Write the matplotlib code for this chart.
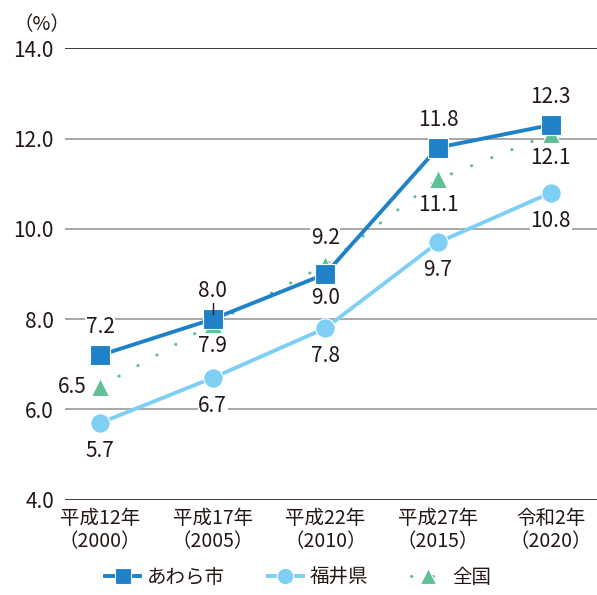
import matplotlib
matplotlib.use("Agg")
import matplotlib.pyplot as plt
import numpy as np

plt.rcParams['font.family'] = ['Noto Sans CJK JP', 'DejaVu Sans']

# data
years = ["平成12年\n（2000）", "平成17年\n（2005）", "平成22年\n（2010）",
         "平成27年\n（2015）", "令和2年\n（2020）"]
awara = [7.2, 8.0, 9.0, 11.8, 12.3]
fukui = [5.7, 6.7, 7.8, 9.7, 10.8]
zenkoku = [6.5, 7.9, 9.2, 11.1, 12.1]
yticks = [4.0, 6.0, 8.0, 10.0, 12.0, 14.0]

c_awara = "#1f82c8"
c_fukui = "#7fcff5"
c_zen = "#5fbf95"
txt = "#231815"

fig = plt.figure(figsize=(5.97, 5.95), dpi=100)
ax = fig.add_axes([0.109, 0.16, 0.891, 0.759])
x = np.arange(len(years))

# grid lines
for v in yticks:
    col = txt if v in (4.0, 14.0) else "#9a9a9a"
    ax.axhline(v, color=col, lw=1.2, zorder=0)

ax.plot(x, zenkoku, color=c_zen, lw=2.2, linestyle=(0, (0.1, 7)),
        dash_capstyle="round", marker="^", ms=13, mec="white", mew=0.8,
        label="全国", zorder=2)
ax.plot(x, fukui, color=c_fukui, lw=2.8, marker="o", ms=14, mec="white",
        mew=0.8, label="福井県", zorder=3)
ax.plot(x, awara, color=c_awara, lw=2.8, marker="s", ms=14, mec="white",
        mew=0.8, label="あわら市", zorder=4)

fs = 15
bb = dict(facecolor="white", edgecolor="none", pad=0.5)


def lab(xi, yi, s, dx, dy):
    ax.annotate(s, (xi, yi), xytext=(dx, dy), textcoords="offset pixels",
                ha="center", va="center", fontsize=fs, color=txt,
                bbox=bb, zorder=6)


# あわら市 labels
for i, v in enumerate(awara):
    if i == 2:
        lab(i, v, f"{v:.1f}", 0, -24)
    else:
        lab(i, v, f"{v:.1f}", 0, 28)
ax.plot([1, 1], [8.37, 8.12], color=txt, lw=1, zorder=5)

# 全国 labels
zoff = [(-28, 0), (0, -22), (0, 27), (0, -26), (0, -24)]
for i, v in enumerate(zenkoku):
    lab(i, v, f"{v:.1f}", *zoff[i])

# 福井県 labels
for i, v in enumerate(fukui):
    lab(i, v, f"{v:.1f}", 0, -28)

ax.set_xlim(-0.31, 4.41)
ax.set_ylim(4.0, 14.0)
ax.set_yticks(yticks)
ax.set_yticklabels([f"{v:.1f}" for v in yticks], fontsize=fs, color=txt)
ax.set_xticks(x)
ax.set_xticklabels(years, fontsize=fs - 1, color=txt, linespacing=1.15)
ax.tick_params(length=0, pad=8)
ax.tick_params(axis="x", pad=6)
for s in ax.spines.values():
    s.set_visible(False)
ax.set_facecolor("none")

fig.text(0.022, 0.958, "（%）", fontsize=fs - 1, color=txt, va="center")

h, l = ax.get_legend_handles_labels()
order = [2, 1, 0]
leg = fig.legend([h[i] for i in order], [l[i] for i in order], loc="center",
                 bbox_to_anchor=(0.5, 0.03), ncol=3, frameon=False,
                 fontsize=fs - 1, handlelength=1.8, columnspacing=2.2,
                 handletextpad=0.35, markerscale=0.85)
for t in leg.get_texts():
    t.set_color(txt)

fig.savefig("out.png", dpi=100)
